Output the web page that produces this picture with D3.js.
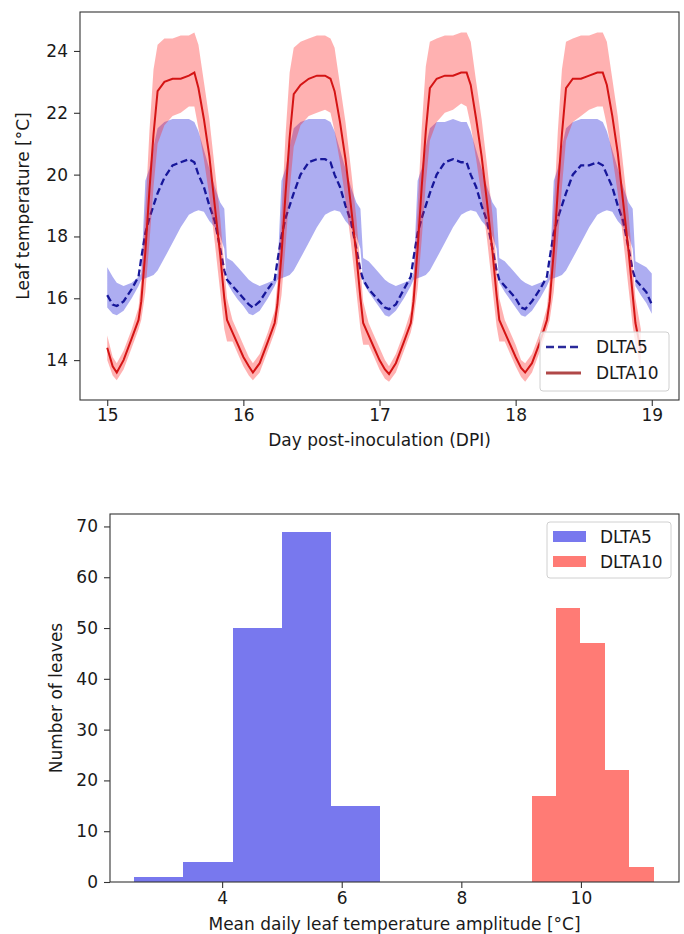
<!DOCTYPE html>
<html>
<head>
<meta charset="utf-8">
<script src="https://cdn.jsdelivr.net/npm/d3@7"></script>
<style>
    body { margin: 0; background: #fff; }
    text { font-family: "DejaVu Sans", sans-serif; fill: #1a1a1a; }
</style>
</head>
<body>
<div id="chart"></div>
<script>

// ---- data: leaf temperature time series ----
const days = [15, 16, 17, 18];
const dayOffsets = [0, .04, .07, .12, .18, .23, .25, .28, .31, .34, .37, .42, .48, .54, .60, .64, .67, .71, .75, .79, .83, .86, .88, .92, .96];

const dlta5Mean = [
    [16.1, 15.8, 15.75, 15.9, 16.3, 16.7, 17.3, 18.1, 18.6, 19.0, 19.4, 19.9, 20.3, 20.4, 20.5, 20.4, 20.0, 19.6, 19.0, 18.5, 17.6, 16.9, 16.6, 16.4, 16.2],
    [16.0, 15.8, 15.7, 15.9, 16.3, 16.6, 17.2, 18.0, 18.6, 19.0, 19.4, 20.0, 20.4, 20.5, 20.5, 20.4, 20.0, 19.6, 19.0, 18.5, 17.6, 16.9, 16.6, 16.3, 16.1],
    [15.9, 15.7, 15.65, 15.8, 16.3, 16.7, 17.3, 18.1, 18.6, 19.0, 19.4, 20.0, 20.4, 20.5, 20.4, 20.4, 20.0, 19.6, 19.0, 18.5, 17.6, 16.9, 16.6, 16.4, 16.2],
    [16.0, 15.7, 15.65, 15.9, 16.3, 16.7, 17.3, 18.1, 18.6, 19.0, 19.4, 20.0, 20.3, 20.3, 20.4, 20.3, 20.0, 19.6, 19.0, 18.5, 17.6, 16.9, 16.6, 16.4, 16.2]
];
const dlta5Upper = [
    [17.0, 16.7, 16.5, 16.4, 16.5, 16.7, 16.8, 19.8, 20.2, 20.9, 21.5, 21.7, 21.8, 21.8, 21.8, 21.7, 21.4, 20.8, 20.2, 19.6, 19.1, 18.9, 17.3, 17.2, 17.0],
    [16.8, 16.6, 16.5, 16.4, 16.5, 16.6, 16.8, 19.8, 20.2, 20.9, 21.5, 21.7, 21.8, 21.8, 21.8, 21.7, 21.4, 20.8, 20.2, 19.6, 19.1, 18.9, 17.3, 17.2, 17.0],
    [16.8, 16.6, 16.5, 16.4, 16.5, 16.6, 16.8, 19.8, 20.2, 20.9, 21.5, 21.7, 21.7, 21.8, 21.7, 21.7, 21.4, 20.8, 20.2, 19.6, 19.1, 18.9, 17.3, 17.2, 17.0],
    [16.8, 16.6, 16.5, 16.4, 16.5, 16.6, 16.8, 19.8, 20.2, 20.9, 21.5, 21.7, 21.8, 21.8, 21.8, 21.7, 21.4, 20.8, 20.2, 19.6, 19.1, 18.9, 17.2, 17.1, 17.0]
];
const dlta5Lower = [
    [15.7, 15.5, 15.45, 15.6, 16.0, 16.4, 16.6, 16.65, 16.7, 16.75, 16.9, 17.3, 17.8, 18.3, 18.7, 18.8, 18.85, 18.8, 18.5, 18.3, 18.0, 17.6, 16.5, 16.2, 15.95],
    [15.75, 15.5, 15.45, 15.6, 16.0, 16.4, 16.6, 16.65, 16.7, 16.75, 16.9, 17.3, 17.8, 18.3, 18.7, 18.8, 18.85, 18.8, 18.5, 18.3, 18.0, 17.6, 16.5, 16.2, 15.95],
    [15.7, 15.45, 15.4, 15.6, 16.0, 16.4, 16.6, 16.65, 16.7, 16.75, 16.9, 17.3, 17.8, 18.3, 18.7, 18.8, 18.85, 18.8, 18.5, 18.3, 18.0, 17.6, 16.5, 16.2, 15.95],
    [15.7, 15.45, 15.4, 15.6, 16.0, 16.4, 16.6, 16.65, 16.7, 16.75, 16.9, 17.3, 17.8, 18.3, 18.7, 18.8, 18.85, 18.8, 18.5, 18.3, 18.0, 17.6, 16.4, 16.1, 15.85]
];
// last sample at day 19.0
const dlta5End = { mean: 15.8, upper: 16.8, lower: 15.5 };

const dlta10Mean = [
    [14.4, 13.8, 13.6, 14.0, 14.7, 15.3, 15.9, 17.5, 19.5, 21.3, 22.7, 23.0, 23.1, 23.1, 23.2, 23.3, 22.8, 21.8, 20.6, 19.0, 17.4, 16.0, 15.3, 14.9, 14.5],
    [14.1, 13.8, 13.6, 13.9, 14.6, 15.2, 15.8, 17.4, 19.4, 21.2, 22.6, 22.9, 23.1, 23.2, 23.2, 23.1, 22.7, 21.7, 20.5, 19.0, 17.4, 16.0, 15.2, 14.8, 14.4],
    [14.0, 13.7, 13.55, 13.9, 14.6, 15.2, 15.9, 17.6, 19.6, 21.4, 22.8, 23.1, 23.2, 23.2, 23.3, 23.3, 22.9, 21.8, 20.6, 19.1, 17.5, 16.1, 15.3, 14.9, 14.5],
    [14.1, 13.75, 13.6, 13.9, 14.6, 15.3, 15.9, 17.5, 19.5, 21.3, 22.8, 23.1, 23.1, 23.2, 23.3, 23.3, 22.9, 21.9, 20.7, 19.1, 17.5, 16.1, 15.2, 14.3]
];
const dlta10Upper = [
    [14.8, 14.1, 13.9, 14.3, 15.0, 15.7, 16.6, 18.8, 21.4, 23.4, 24.2, 24.4, 24.4, 24.5, 24.5, 24.6, 24.2, 23.0, 21.8, 20.2, 18.6, 17.0, 16.0, 15.3, 14.9],
    [14.5, 14.1, 13.9, 14.2, 14.9, 15.6, 16.5, 18.7, 21.3, 23.3, 24.1, 24.3, 24.4, 24.5, 24.5, 24.4, 24.1, 22.9, 21.7, 20.2, 18.6, 17.0, 15.9, 15.2, 14.8],
    [14.4, 14.0, 13.8, 14.2, 14.9, 15.6, 16.6, 18.9, 21.5, 23.5, 24.3, 24.4, 24.5, 24.5, 24.6, 24.6, 24.3, 23.0, 21.8, 20.3, 18.7, 17.1, 16.0, 15.3, 14.9],
    [14.5, 14.0, 13.9, 14.2, 14.9, 15.7, 16.6, 18.8, 21.4, 23.4, 24.3, 24.4, 24.5, 24.5, 24.6, 24.6, 24.3, 23.1, 21.9, 20.3, 18.7, 17.1, 16.0, 15.0]
];
const dlta10Lower = [
    [14.0, 13.5, 13.35, 13.7, 14.4, 15.0, 15.3, 16.2, 17.8, 19.6, 21.0, 21.6, 21.9, 22.0, 22.2, 22.2, 21.5, 20.5, 19.3, 17.8, 16.2, 15.0, 14.6, 14.6, 14.2],
    [13.8, 13.5, 13.35, 13.6, 14.3, 14.9, 15.2, 16.1, 17.7, 19.5, 20.9, 21.6, 21.9, 22.0, 22.1, 22.0, 21.4, 20.4, 19.2, 17.8, 16.2, 15.0, 14.5, 14.5, 14.1],
    [13.7, 13.4, 13.3, 13.6, 14.3, 14.9, 15.3, 16.3, 17.9, 19.7, 21.1, 21.7, 22.0, 22.1, 22.3, 22.2, 21.6, 20.5, 19.3, 17.9, 16.3, 15.1, 14.6, 14.6, 14.2],
    [13.8, 13.45, 13.3, 13.6, 14.3, 15.0, 15.3, 16.2, 17.8, 19.6, 21.1, 21.7, 21.9, 22.1, 22.2, 22.2, 21.6, 20.6, 19.4, 17.9, 16.3, 15.1, 14.5, 13.7]
];

const tempTicks = [14, 16, 18, 20, 22, 24];
const dayTicks = [15, 16, 17, 18, 19];

// ---- data: histogram of mean daily amplitude ----
const dlta5Edges = [2.53, 3.35, 4.19, 5.00, 5.82, 6.64];
const dlta5Counts = [1, 4, 50, 69, 15];
const dlta10Edges = [9.18, 9.58, 9.98, 10.39, 10.79, 11.21];
const dlta10Counts = [17, 54, 47, 22, 3];

const ampTicks = [4, 6, 8, 10];
const countTicks = [0, 10, 20, 30, 40, 50, 60, 70];

// ---- layout ----
const width = 684;
const height = 934;
const top1 = { left: 80, right: 679, top: 12, bottom: 400 };
const top2 = { left: 110, right: 679, top: 514, bottom: 882 };
const fontSize = 17;

const blueBand = "#3333dd", redBand = "#ff2020";
const blueLine = "#17179a", redLine = "#d41414";
const blueHist = "#7878ee", redHist = "#ff7b75";


function buildBand(mean, upper, lower, end) {
    let pts = [];
    days.forEach((d, i) => {
        mean[i].forEach((v, j) => {
            pts.push({ t: d + dayOffsets[j], m: v, hi: upper[i][j], lo: lower[i][j] });
        });
    });
    if (end) pts.push({ t: 19, m: end.mean, hi: end.upper, lo: end.lower });
    return pts;
}

function styleAxis(g) {
    g.select(".domain").remove();
    g.selectAll(".tick line").attr("stroke", "#333").attr("stroke-width", 1.1);
    g.selectAll(".tick text").style("font-size", fontSize + "px").attr("fill", "#1a1a1a");
}

function addText(x, y, str, rotate) {
    return svg.append("text")
        .attr("transform", "translate(" + x + "," + y + ")" + (rotate ? " rotate(-90)" : ""))
        .attr("text-anchor", "middle").attr("dominant-baseline", "central")
        .style("font-size", fontSize + "px")
        .text(str);
}

let svg = d3.select("#chart")
    .append("svg")
    .attr("width", width)
    .attr("height", height);

svg.append("rect").attr("width", width).attr("height", height).attr("fill", "#fff");


function drawTimeSeries() {
    let x = d3.scaleLinear().domain([14.8, 19.2]).range([top1.left, top1.right]);
    let y = d3.scaleLinear().domain([12.71, 25.26]).range([top1.bottom, top1.top]);

    let d5 = buildBand(dlta5Mean, dlta5Upper, dlta5Lower, dlta5End);
    let d10 = buildBand(dlta10Mean, dlta10Upper, dlta10Lower, null);

    let area = d3.area()
        .x(d => x(d.t))
        .y0(d => y(d.lo))
        .y1(d => y(d.hi));
    let line = d3.line()
        .x(d => x(d.t))
        .y(d => y(d.m));

    let g = svg.append("g");

    g.append("path").datum(d5).attr("d", area)
        .attr("fill", blueBand).attr("fill-opacity", 0.4);
    g.append("path").datum(d5).attr("d", line)
        .attr("fill", "none").attr("stroke", blueLine).attr("stroke-width", 2.3)
        .attr("stroke-dasharray", "7,3.5");
    g.append("path").datum(d10).attr("d", area)
        .attr("fill", redBand).attr("fill-opacity", 0.35);
    g.append("path").datum(d10).attr("d", line)
        .attr("fill", "none").attr("stroke", redLine).attr("stroke-width", 2);

    // axes
    svg.append("g")
        .attr("transform", "translate(0," + top1.bottom + ")")
        .call(d3.axisBottom(x).tickValues(dayTicks).tickFormat(d3.format("d")).tickSize(6).tickPadding(3))
        .call(styleAxis);
    svg.append("g")
        .attr("transform", "translate(" + top1.left + ",0)")
        .call(d3.axisLeft(y).tickValues(tempTicks).tickFormat(d3.format("d")).tickSize(6).tickPadding(6))
        .call(styleAxis);

    svg.append("rect")
        .attr("x", top1.left).attr("y", top1.top)
        .attr("width", top1.right - top1.left).attr("height", top1.bottom - top1.top)
        .attr("fill", "none").attr("stroke", "#333").attr("stroke-width", 1.1);

    addText((top1.left + top1.right) / 2, 440, "Day post-inoculation (DPI)");
    addText(23, (top1.top + top1.bottom) / 2, "Leaf temperature [°C]", true);

    // legend
    let lg = svg.append("g").attr("transform", "translate(540,332)");
    lg.append("rect").attr("width", 129).attr("height", 59).attr("rx", 3)
        .attr("fill", "#fff").attr("fill-opacity", 0.8).attr("stroke", "#d0d0d0");
    lg.append("line").attr("x1", 6).attr("x2", 41).attr("y1", 15).attr("y2", 15)
        .attr("stroke", "#2a2a9a").attr("stroke-width", 2.5).attr("stroke-dasharray", "8,4");
    lg.append("line").attr("x1", 6).attr("x2", 41).attr("y1", 41).attr("y2", 41)
        .attr("stroke", "#b04848").attr("stroke-width", 3);
    lg.append("text").attr("x", 56).attr("y", 15).attr("dominant-baseline", "central")
        .style("font-size", fontSize + "px").text("DLTA5");
    lg.append("text").attr("x", 56).attr("y", 41).attr("dominant-baseline", "central")
        .style("font-size", fontSize + "px").text("DLTA10");
}


function drawHistogram() {
    let x = d3.scaleLinear().domain([2.125, 11.64]).range([top2.left, top2.right]);
    let y = d3.scaleLinear().domain([0, 72.45]).range([top2.bottom, top2.top]);

    function bins(edges, counts) {
        return counts.map((c, i) => ({ x0: edges[i], x1: edges[i + 1], n: c }));
    }

    let g = svg.append("g").attr("shape-rendering", "crispEdges");
    [[bins(dlta5Edges, dlta5Counts), blueHist], [bins(dlta10Edges, dlta10Counts), redHist]]
        .forEach(([data, color]) => {
            g.selectAll(null)
                .data(data)
                .join("rect")
                .attr("x", d => x(d.x0))
                .attr("y", d => y(d.n))
                .attr("width", d => x(d.x1) - x(d.x0) + 0.5)
                .attr("height", d => y(0) - y(d.n))
                .attr("fill", color);
        });

    svg.append("g")
        .attr("transform", "translate(0," + top2.bottom + ")")
        .call(d3.axisBottom(x).tickValues(ampTicks).tickFormat(d3.format("d")).tickSize(6).tickPadding(4))
        .call(styleAxis);
    svg.append("g")
        .attr("transform", "translate(" + top2.left + ",0)")
        .call(d3.axisLeft(y).tickValues(countTicks).tickFormat(d3.format("d")).tickSize(6).tickPadding(6))
        .call(styleAxis);

    svg.append("rect")
        .attr("x", top2.left).attr("y", top2.top)
        .attr("width", top2.right - top2.left).attr("height", top2.bottom - top2.top)
        .attr("fill", "none").attr("stroke", "#333").attr("stroke-width", 1.1);

    addText((top2.left + top2.right) / 2, 924, "Mean daily leaf temperature amplitude [°C]");
    addText(56, (top2.top + top2.bottom) / 2, "Number of leaves", true);

    let lg = svg.append("g").attr("transform", "translate(547,522)");
    lg.append("rect").attr("width", 124).attr("height", 56).attr("rx", 3)
        .attr("fill", "#fff").attr("fill-opacity", 0.8).attr("stroke", "#d0d0d0");
    lg.append("rect").attr("x", 6).attr("y", 9).attr("width", 33).attr("height", 11).attr("fill", blueHist);
    lg.append("rect").attr("x", 6).attr("y", 34).attr("width", 33).attr("height", 11).attr("fill", redHist);
    lg.append("text").attr("x", 53).attr("y", 15).attr("dominant-baseline", "central")
        .style("font-size", fontSize + "px").text("DLTA5");
    lg.append("text").attr("x", 53).attr("y", 40).attr("dominant-baseline", "central")
        .style("font-size", fontSize + "px").text("DLTA10");
}

drawTimeSeries();
drawHistogram();
</script>
</body>
</html>
